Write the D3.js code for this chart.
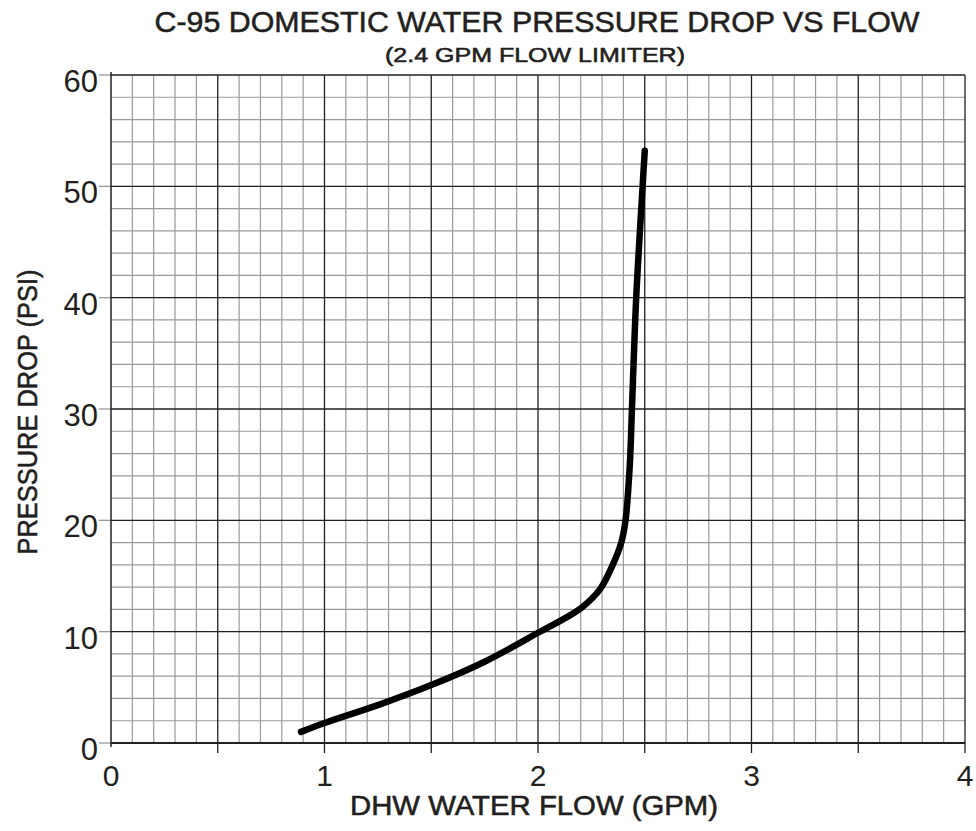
<!DOCTYPE html>
<html>
  <head>
    <title>Pressure drop vs flow</title>
    <script src="https://cdn.jsdelivr.net/npm/d3@7"></script>
    <style>
      body { margin: 0; background: #fff; }
      text { font-family: "Liberation Sans", Arial, sans-serif; fill: #231f20; }
      .heading { stroke: #231f20; stroke-width: 0.55px; }
    </style>
  </head>
  <body>
    <svg width="976" height="831" id="mainsvg"></svg>
    <script>
      // data
      const flow = [0.89, 1.0, 1.25, 1.5, 1.75, 2.0, 2.2, 2.29, 2.35, 2.39, 2.41, 2.43, 2.44, 2.46, 2.49, 2.5];
      const psi = [1.0, 1.8, 3.4, 5.2, 7.3, 9.9, 12.1, 13.8, 16.0, 18.0, 20.0, 25.0, 30.0, 40.0, 50.0, 53.2];
      const xTickLabels = [0, 1, 2, 3, 4];
      const yTickLabels = [0, 10, 20, 30, 40, 50, 60];

      const svg = d3.select("#mainsvg");
      const margin = { left: 111, top: 75, right: 11, bottom: 88 };
      const width = +svg.attr("width");
      const height = +svg.attr("height");

      const x = d3.scaleLinear().domain([0, 4]).range([margin.left, width - margin.right]);
      const y = d3.scaleLinear().domain([0, 60]).range([height - margin.bottom, margin.top]);

      const g = svg.append("g");

      // minor grid: 0.1 gpm, 2 psi
      const minorX = d3.range(1, 40).map((d) => d / 10).filter((d) => Math.round(d * 10) % 5 !== 0);
      const minorY = d3.range(2, 60, 2).filter((d) => d % 10 !== 0);
      g.selectAll(".vminor").data(minorX).join("line")
        .attr("x1", (d) => x(d)).attr("x2", (d) => x(d))
        .attr("y1", y(0)).attr("y2", y(60))
        .attr("stroke", "#9a9a9a").attr("stroke-width", 1.2);
      g.selectAll(".hminor").data(minorY).join("line")
        .attr("x1", x(0)).attr("x2", x(4))
        .attr("y1", (d) => y(d)).attr("y2", (d) => y(d))
        .attr("stroke", "#9a9a9a").attr("stroke-width", 1.2);

      // major grid: 0.5 gpm, 10 psi
      const majorX = d3.range(1, 9).map((d) => d / 2);
      const majorY = d3.range(10, 70, 10);
      g.selectAll(".vmajor").data(majorX).join("line")
        .attr("x1", (d) => x(d)).attr("x2", (d) => x(d))
        .attr("y1", y(0) + 10).attr("y2", y(60))
        .attr("stroke", "#231f20").attr("stroke-width", 1.3);
      g.selectAll(".hmajor").data(majorY).join("line")
        .attr("x1", x(0)).attr("x2", x(4))
        .attr("y1", (d) => y(d)).attr("y2", (d) => y(d))
        .attr("stroke", "#231f20").attr("stroke-width", 1.3);

      // y ticks (short gray stubs left of the axis)
      g.selectAll(".ytick").data(yTickLabels).join("line")
        .attr("x1", x(0) - 12).attr("x2", x(0))
        .attr("y1", (d) => y(d)).attr("y2", (d) => y(d))
        .attr("stroke", "#9a9a9a").attr("stroke-width", 1.3);

      // axes lines
      g.append("line")
        .attr("x1", x(0)).attr("x2", x(0))
        .attr("y1", y(60) - 3).attr("y2", y(0) + 4)
        .attr("stroke", "#231f20").attr("stroke-width", 1.5);
      g.append("line")
        .attr("x1", x(0)).attr("x2", x(4))
        .attr("y1", y(0)).attr("y2", y(0))
        .attr("stroke", "#231f20").attr("stroke-width", 1.8);

      // tick labels
      g.selectAll(".xlab").data(xTickLabels).join("text")
        .attr("x", (d) => x(d))
        .attr("y", y(0) + 43)
        .attr("text-anchor", "middle")
        .attr("font-size", 30)
        .text((d) => d);
      g.selectAll(".ylab").data(yTickLabels).join("text")
        .attr("x", x(0) - 13)
        .attr("y", (d) => y(d) + 17)
        .attr("text-anchor", "end")
        .attr("font-size", 31)
        .text((d) => d);

      // curve
      const pts = flow.map((f, i) => [f, psi[i]]);
      const line = d3.line()
        .x((d) => x(d[0]))
        .y((d) => y(d[1]))
        .curve(d3.curveCatmullRom.alpha(0.5));
      g.append("path")
        .attr("d", line(pts))
        .attr("fill", "none")
        .attr("stroke", "#000")
        .attr("stroke-width", 6.5)
        .attr("stroke-linecap", "round")
        .attr("stroke-linejoin", "round");

      // titles
      svg.append("text").attr("class", "heading")
        .attr("x", 537).attr("y", 32)
        .attr("text-anchor", "middle")
        .attr("font-size", 30)
        .attr("textLength", 765).attr("lengthAdjust", "spacingAndGlyphs")
        .text("C-95 DOMESTIC WATER PRESSURE DROP VS FLOW");
      svg.append("text").attr("class", "heading")
        .attr("x", 535).attr("y", 62)
        .attr("text-anchor", "middle")
        .attr("font-size", 20)
        .attr("textLength", 300).attr("lengthAdjust", "spacingAndGlyphs")
        .text("(2.4 GPM FLOW LIMITER)");
      svg.append("text").attr("class", "heading")
        .attr("x", 534).attr("y", 815)
        .attr("text-anchor", "middle")
        .attr("font-size", 27)
        .attr("textLength", 368).attr("lengthAdjust", "spacingAndGlyphs")
        .text("DHW WATER FLOW (GPM)");
      svg.append("text").attr("class", "heading")
        .attr("transform", "translate(37, 412) rotate(-90)")
        .attr("text-anchor", "middle")
        .attr("font-size", 28)
        .attr("textLength", 285).attr("lengthAdjust", "spacingAndGlyphs")
        .text("PRESSURE DROP (PSI)");
    </script>
  </body>
</html>
